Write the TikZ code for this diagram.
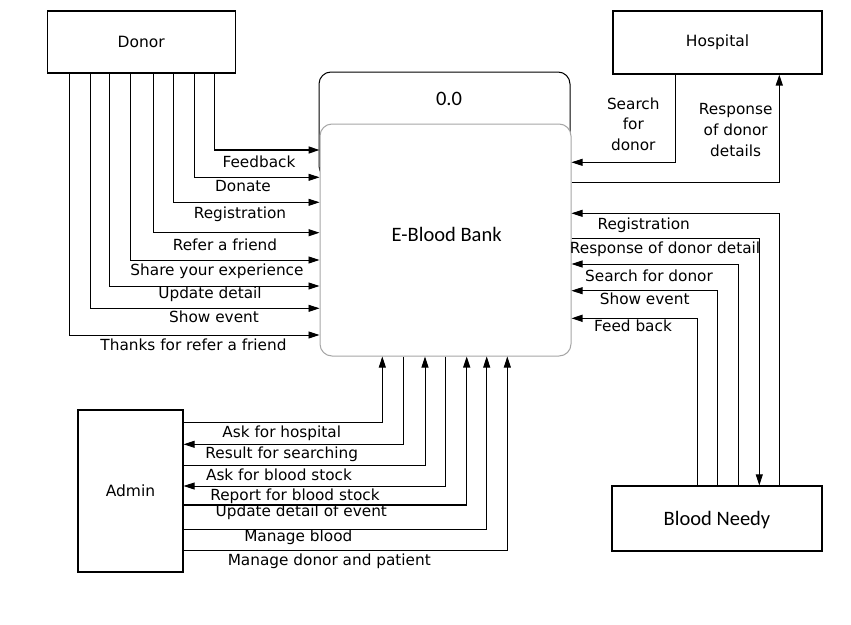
\documentclass[tikz,border=0pt]{standalone}
\usepackage{fontspec}
\usepackage{xcolor}
\usepackage{tikz}
\usetikzlibrary{arrows.meta}
\setmainfont{DejaVu Sans}
\newfontfamily\calibri{Carlito}

\begin{document}
\begin{tikzpicture}[x=1pt,y=-1pt]
% Styles (MODIFIABLES)
\tikzstyle{fleche}=[-{Triangle[length=11pt,width=7pt]},line width=0.8pt]
\tikzstyle{epais}=[line width=1.4pt]
\tikzstyle{entite}=[draw,line width=1.2pt,inner sep=0pt,font=\fontsize{15.5}{18}\selectfont]
\tikzstyle{processus}=[draw,rounded corners=12pt,inner sep=0pt,fill=white,line width=1pt]
\tikzstyle{etiquette}=[inner sep=0pt,anchor=base,font=\fontsize{15.3}{18}\selectfont]
\tikzstyle{bloc}=[inner sep=0pt,align=center,font=\fontsize{15.3}{20.7}\selectfont]
\tikzstyle{titre}=[inner sep=0pt,anchor=base,font=\calibri\fontsize{20.5}{24}\selectfont]
% Cadre
\useasboundingbox (0,0) rectangle (851,624);
% Entites
\node[entite,minimum width=188pt,minimum height=62pt] (Donor) at (141.25,42) {Donor};
\node[entite,minimum width=209pt,minimum height=63pt] (Hospital) at (717.5,42.5) {Hospital};
\node[entite,minimum width=105pt,minimum height=162pt] (Admin) at (130.5,491) {Admin};
\node[entite,minimum width=210pt,minimum height=65pt,text depth=0pt,font=\calibri\fontsize{20.5}{24}\selectfont] (Needy) at (717,518.5) {Blood Needy};
% Processus
\node[processus,minimum width=251pt,minimum height=106pt] (Numero) at (444.5,125) {};
\node[processus,draw=gray!70,minimum width=251pt,minimum height=232pt] (Bank) at (445.5,240) {};
\node[titre] (NumeroTexte) at (449,105) {0.0};
\node[titre] (BankTexte) at (446.7,241.7) {E-Blood Bank};
% Flux Donor
\draw[fleche,epais] (214.7,0 |- Donor.south) |- (Bank.west |- 0,150);
\draw[fleche] (194,0 |- Donor.south) |- (Bank.west |- 0,177.3);
\draw[fleche] (173.3,0 |- Donor.south) |- (Bank.west |- 0,202.3);
\draw[fleche,epais] (153.3,0 |- Donor.south) |- (Bank.west |- 0,232.7);
\draw[fleche] (130.7,0 |- Donor.south) |- (Bank.west |- 0,260);
\draw[fleche] (109,0 |- Donor.south) |- (Bank.west |- 0,286);
\draw[fleche] (90,0 |- Donor.south) |- (Bank.west |- 0,308.3);
\draw[fleche] (69.3,0 |- Donor.south) |- (Bank.west |- 0,335);
\node[etiquette] (lFeedback) at (259,167.3) {Feedback};
\node[etiquette] (lDonate) at (243,191) {Donate};
\node[etiquette] (lRegistration) at (240,218.3) {Registration};
\node[etiquette] (lRefer) at (225,250.7) {Refer a friend};
\node[etiquette] (lShare) at (217,275) {Share your experience};
\node[etiquette] (lUpdate) at (210,298.3) {Update detail};
\node[etiquette] (lShow) at (214,322.7) {Show event};
\node[etiquette] (lThanks) at (193.5,350) {Thanks for refer a friend};
% Flux Hospital
\draw[fleche] (675.7,0 |- Hospital.south) |- (Bank.east |- 0,162.3);
\draw[fleche,epais] (Bank.east |- 0,182.7) -| (779.3,0 |- Hospital.south);
\node[bloc] (lSearchH) at (633.3,124.2) {Search\\for\\donor};
\node[bloc] (lResponseH) at (735.7,130.2) {Response\\of donor\\details};
% Flux Blood Needy
\draw[fleche] (779.3,0 |- Needy.north) |- (Bank.east |- 0,213.3);
\draw[fleche] (Bank.east |- 0,238.3) -| (759.3,0 |- Needy.north);
\draw[fleche] (738.3,0 |- Needy.north) |- (Bank.east |- 0,264);
\draw[fleche] (717.3,0 |- Needy.north) |- (Bank.east |- 0,290.7);
\draw[fleche,epais] (697.3,0 |- Needy.north) |- (Bank.east |- 0,318.3);
\node[etiquette] (lRegistrationN) at (643.7,229) {Registration};
\node[etiquette] (lResponseN) at (665,253.3) {Response of donor detail};
\node[etiquette] (lSearchN) at (649,281) {Search for donor};
\node[etiquette] (lShowN) at (644.7,304) {Show event};
\node[etiquette] (lFeedN) at (633,331.7) {Feed back};
% Flux Admin
\draw[fleche] (Admin.east |- 0,422.7) -| (382.3,0 |- Bank.south);
\draw[fleche] (403.3,0 |- Bank.south) |- (Admin.east |- 0,444.3);
\draw[fleche] (Admin.east |- 0,465) -| (425,0 |- Bank.south);
\draw[fleche] (445.7,0 |- Bank.south) |- (Admin.east |- 0,486);
\draw[fleche,epais] (Admin.east |- 0,505) -| (466.7,0 |- Bank.south);
\draw[fleche] (Admin.east |- 0,529.3) -| (486.7,0 |- Bank.south);
\draw[fleche] (Admin.east |- 0,550.7) -| (507.3,0 |- Bank.south);
\node[etiquette] (lAskH) at (281.7,437.3) {Ask for hospital};
\node[etiquette] (lResult) at (281.7,458.3) {Result for searching};
\node[etiquette] (lAskB) at (279,480) {Ask for blood stock};
\node[etiquette] (lReport) at (295,500.7) {Report for blood stock};
\node[etiquette] (lUpdateE) at (301.3,516.7) {Update detail of event};
\node[etiquette] (lManageB) at (298.3,541.7) {Manage blood};
\node[etiquette] (lManageD) at (329.3,565) {Manage donor and patient};
\end{tikzpicture}
\end{document}
